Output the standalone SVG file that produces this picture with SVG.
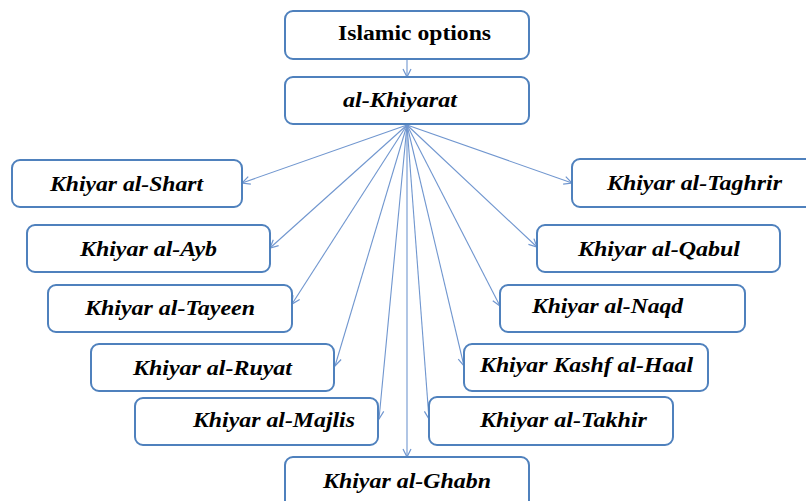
<svg xmlns="http://www.w3.org/2000/svg" width="806" height="501" viewBox="0 0 806 501">
<style>
.box{fill:#fff;stroke:#4f81bd;stroke-width:2}
.t{font-family:"Liberation Serif","Times New Roman",serif;font-size:20px;font-weight:bold;font-style:italic;fill:#000}
.t0{font-style:normal}
.c line{stroke:#7096cf;stroke-width:1.1}
</style>
<defs>
<marker id="a" viewBox="0 0 10 10" refX="9" refY="5" markerWidth="10" markerHeight="10" markerUnits="userSpaceOnUse" orient="auto">
<polyline points="1,1 9,5 1,9" fill="none" stroke="#7096cf" stroke-width="1.2"/>
</marker>
</defs>
<rect width="806" height="501" fill="#fff"/>
<g class="c">
<line x1="407" y1="59" x2="407" y2="77" marker-end="url(#a)"/>
<line x1="407" y1="125" x2="242" y2="183" marker-end="url(#a)"/>
<line x1="407" y1="125" x2="270" y2="248" marker-end="url(#a)"/>
<line x1="407" y1="125" x2="292" y2="304" marker-end="url(#a)"/>
<line x1="407" y1="125" x2="335" y2="366" marker-end="url(#a)"/>
<line x1="407" y1="125" x2="379" y2="419" marker-end="url(#a)"/>
<line x1="407" y1="125" x2="407" y2="457" marker-end="url(#a)"/>
<line x1="407" y1="125" x2="429" y2="419" marker-end="url(#a)"/>
<line x1="407" y1="125" x2="464" y2="366" marker-end="url(#a)"/>
<line x1="407" y1="125" x2="500" y2="306" marker-end="url(#a)"/>
<line x1="407" y1="125" x2="537" y2="247" marker-end="url(#a)"/>
<line x1="407" y1="125" x2="572" y2="183" marker-end="url(#a)"/>
</g>
<g id="n-islamic"><rect class="box" x="285" y="11" width="244" height="48" rx="8"/><text class="t t0" x="338" y="40" textLength="153" lengthAdjust="spacingAndGlyphs">Islamic options</text></g>
<g id="n-khiyarat"><rect class="box" x="285" y="77" width="244" height="47" rx="8"/><text class="t" x="343" y="107" textLength="114" lengthAdjust="spacingAndGlyphs">al-Khiyarat</text></g>
<g id="n-shart"><rect class="box" x="12" y="160" width="230" height="47" rx="8"/><text class="t" x="50" y="191" textLength="153" lengthAdjust="spacingAndGlyphs">Khiyar al-Shart</text></g>
<g id="n-ayb"><rect class="box" x="27" y="225" width="243" height="47" rx="8"/><text class="t" x="80" y="256" textLength="137" lengthAdjust="spacingAndGlyphs">Khiyar al-Ayb</text></g>
<g id="n-tayeen"><rect class="box" x="48" y="285" width="244" height="47" rx="8"/><text class="t" x="85" y="315" textLength="170" lengthAdjust="spacingAndGlyphs">Khiyar al-Tayeen</text></g>
<g id="n-ruyat"><rect class="box" x="91" y="344" width="243" height="47" rx="8"/><text class="t" x="133" y="375" textLength="159" lengthAdjust="spacingAndGlyphs">Khiyar al-Ruyat</text></g>
<g id="n-majlis"><rect class="box" x="135" y="398" width="243" height="47" rx="8"/><text class="t" x="193" y="427" textLength="162" lengthAdjust="spacingAndGlyphs">Khiyar al-Majlis</text></g>
<g id="n-ghabn"><rect class="box" x="285" y="457" width="244" height="52" rx="8"/><text class="t" x="323" y="488" textLength="168" lengthAdjust="spacingAndGlyphs">Khiyar al-Ghabn</text></g>
<g id="n-taghrir"><rect class="box" x="572" y="159" width="250" height="48" rx="8"/><text class="t" x="607" y="190" textLength="175" lengthAdjust="spacingAndGlyphs">Khiyar al-Taghrir</text></g>
<g id="n-qabul"><rect class="box" x="537" y="225" width="243" height="47" rx="8"/><text class="t" x="578" y="256" textLength="162" lengthAdjust="spacingAndGlyphs">Khiyar al-Qabul</text></g>
<g id="n-naqd"><rect class="box" x="500" y="285" width="245" height="47" rx="8"/><text class="t" x="532" y="313" textLength="151" lengthAdjust="spacingAndGlyphs">Khiyar al-Naqd</text></g>
<g id="n-kashf"><rect class="box" x="464" y="344" width="244" height="47" rx="8"/><text class="t" x="480" y="372" textLength="213" lengthAdjust="spacingAndGlyphs">Khiyar Kashf al-Haal</text></g>
<g id="n-takhir"><rect class="box" x="429" y="397" width="244" height="48" rx="8"/><text class="t" x="480" y="427" textLength="167" lengthAdjust="spacingAndGlyphs">Khiyar al-Takhir</text></g>
</svg>
